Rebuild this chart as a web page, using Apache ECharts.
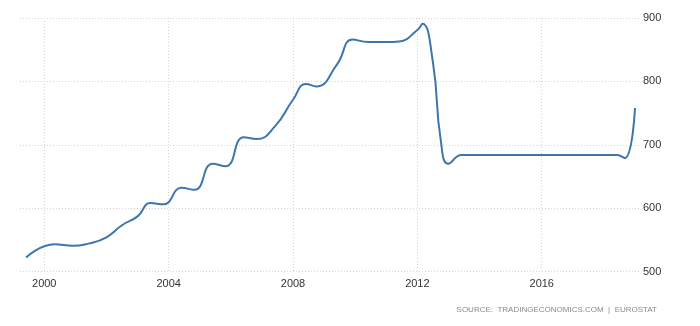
<!DOCTYPE html>
<html>
<head>
<meta charset="utf-8">
<script src="https://cdn.jsdelivr.net/npm/echarts@6/dist/echarts.min.js"></script>
<style>
  html, body { margin: 0; padding: 0; background: #fff; }
  #chart { width: 700px; height: 326px; }
</style>
</head>
<body>
<div id="chart"></div>
<script>
// Monthly minimum wage (EUR), observation periods and values
const periods = [
  '1999-06', '2000-05', '2000-12', '2001-06', '2002-01', '2002-07', '2003-01',
  '2003-06', '2003-11', '2004-06', '2004-11', '2005-06', '2005-11', '2006-06',
  '2006-11', '2007-06', '2008-01', '2008-06', '2008-10', '2009-06', '2009-12',
  '2010-06', '2011-01', '2011-06', '2012-01', '2012-03', '2012-07', '2012-10',
  '2013-01', '2013-06', '2014-01', '2014-07', '2015-01', '2015-07', '2016-01',
  '2016-07', '2017-01', '2017-07', '2018-01', '2018-06', '2018-09', '2019-01'
];
const wages = [
  522, 543, 540.5, 544, 554, 573, 587,
  608, 606, 632, 629, 670, 666, 712,
  709, 729, 771, 796, 792, 827, 866,
  862, 862, 863, 881, 891, 830, 708,
  670, 684, 684, 684, 684, 684, 684,
  684, 684, 684, 684, 684, 679, 758
];
const yearTicks = [2000, 2004, 2008, 2012, 2016];
const wageTicks = [500, 600, 700, 800, 900];
const sourceText = 'SOURCE:  TRADINGECONOMICS.COM  |  EUROSTAT';

// period 'YYYY-MM' -> fractional year
function toYear(p) {
  const [y, m] = p.split('-').map(Number);
  return y + (m - 1) / 12;
}

const chart = echarts.init(document.getElementById('chart'), null, { renderer: 'canvas' });

const font = "'Liberation Sans', Arial, sans-serif";
const gridLine = { show: true, lineStyle: { color: '#d6d6d6', type: [1, 2], width: 1 } };

chart.setOption({
  animation: false,
  backgroundColor: '#ffffff',
  grid: { left: 20, right: 60, top: 18, bottom: 54.5, containLabel: false },
  xAxis: {
    type: 'value',
    min: 1999.22,
    max: 2019.16,
    axisLine: { show: false },
    axisTick: { show: false, customValues: yearTicks },
    axisLabel: {
      customValues: yearTicks,
      formatter: v => String(Math.round(v)),
      color: '#333',
      fontFamily: font,
      fontSize: 11,
      margin: 7
    },
    splitLine: gridLine
  },
  yAxis: {
    type: 'value',
    position: 'right',
    min: wageTicks[0],
    max: wageTicks[wageTicks.length - 1],
    interval: 100,
    axisLine: { show: false },
    axisTick: { show: false },
    axisLabel: {
      color: '#333',
      fontFamily: font,
      fontSize: 11,
      margin: 3
    },
    splitLine: gridLine
  },
  graphic: [{
    type: 'text',
    right: 43,
    top: 306,
    style: {
      text: sourceText,
      fill: '#8a8a8a',
      font: "8px 'Liberation Sans', Arial, sans-serif"
    }
  }],
  series: [{
    type: 'line',
    data: periods.map((p, i) => [toYear(p), wages[i]]),
    smooth: 0.5,
    showSymbol: false,
    lineStyle: { color: '#3d76ad', width: 2 },
    clip: false
  }]
});
</script>
</body>
</html>
